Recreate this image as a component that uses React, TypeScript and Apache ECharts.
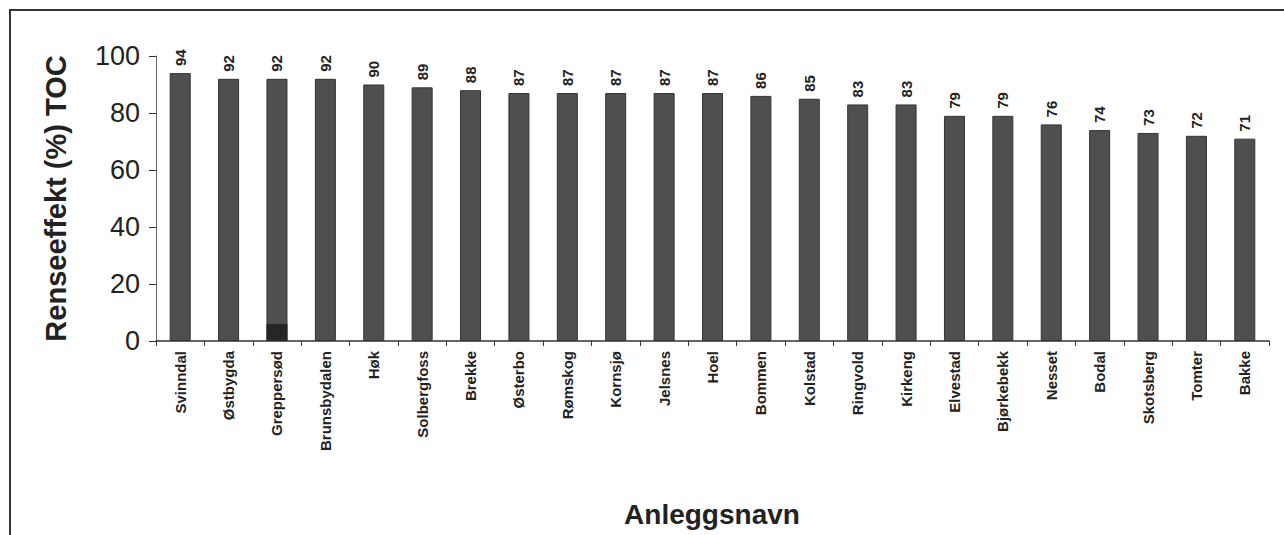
import React, { useEffect, useRef } from "react";
import * as echarts from "echarts";

const categories = [
  "Svinndal", "Østbygda", "Greppersød", "Brunsbydalen", "Høk", "Solbergfoss",
  "Brekke", "Østerbo", "Rømskog", "Kornsjø", "Jelsnes", "Hoel", "Bommen",
  "Kolstad", "Ringvold", "Kirkeng", "Elvestad", "Bjørkebekk", "Nesset",
  "Bodal", "Skotsberg", "Tomter", "Bakke",
];
const values = [94, 92, 92, 92, 90, 89, 88, 87, 87, 87, 87, 87, 86, 85, 83, 83, 79, 79, 76, 74, 73, 72, 71];
const darkSegment = [null, null, 6, null, null, null, null, null, null, null, null, null, null, null, null, null, null, null, null, null, null, null, null];
const yTicks = [0, 20, 40, 60, 80, 100];

const FONT = "Liberation Sans, Arial, sans-serif";

export default function App() {
  const ref = useRef<HTMLDivElement>(null);
  useEffect(() => {
    if (!ref.current) return;
    const chart = echarts.init(ref.current, null, { renderer: "svg" });
    chart.setOption({
      animation: false,
      backgroundColor: "#ffffff",
      textStyle: { fontFamily: FONT },
      graphic: [
        {
          type: "rect",
          shape: { x: 10, y: 10, width: 1290, height: 540 },
          style: { fill: "none", stroke: "#333", lineWidth: 2 },
          silent: true,
        },
        {
          type: "text",
          x: 712,
          y: 514,
          style: {
            text: "Anleggsnavn",
            fill: "#222",
            font: "bold 28px 'Liberation Sans', Arial, sans-serif",
            align: "center",
            verticalAlign: "middle",
          },
        },
      ],
      grid: { left: 156, right: 15, top: 56, bottom: 194 },
      xAxis: {
        type: "category",
        data: categories,
        axisLine: { lineStyle: { color: "#333", width: 1.5 } },
        axisTick: { show: true, length: 5, lineStyle: { color: "#333" } },
        axisLabel: {
          rotate: 90,
          interval: 0,
          margin: 10,
          color: "#222",
          fontSize: 15,
          fontWeight: "bold",
          fontFamily: FONT,
        },
      },
      yAxis: {
        type: "value",
        min: 0,
        max: 100,
        interval: 20,
        name: "Renseeffekt (%) TOC",
        nameLocation: "middle",
        nameGap: 86,
        nameTextStyle: {
          color: "#222",
          fontSize: 29,
          fontWeight: "bold",
          fontFamily: FONT,
        },
        axisLine: { show: true, lineStyle: { color: "#666", width: 1 } },
        axisTick: { show: true, length: 7, lineStyle: { color: "#333" } },
        splitLine: { show: false },
        axisLabel: {
          color: "#222",
          fontSize: 27,
          margin: 16,
          fontFamily: FONT,
          formatter: (v: number) => (yTicks.includes(v) ? String(v) : ""),
        },
      },
      series: [
        {
          type: "bar",
          data: values,
          barWidth: 21,
          itemStyle: { color: "#4f4f4f", borderColor: "#333", borderWidth: 1 },
          label: {
            show: true,
            position: "top",
            distance: 7,
            rotate: 90,
            align: "left",
            verticalAlign: "middle",
            color: "#222",
            fontSize: 15,
            fontWeight: "bold",
            fontFamily: FONT,
          },
        },
        {
          type: "bar",
          data: darkSegment,
          barWidth: 21,
          barGap: "-100%",
          itemStyle: { color: "#262626" },
          silent: true,
        },
      ],
    });
    return () => chart.dispose();
  }, []);
  return (
    <div
      ref={ref}
      style={{ position: "fixed", left: 0, top: 0, width: 1284, height: 535 }}
    />
  );
}
